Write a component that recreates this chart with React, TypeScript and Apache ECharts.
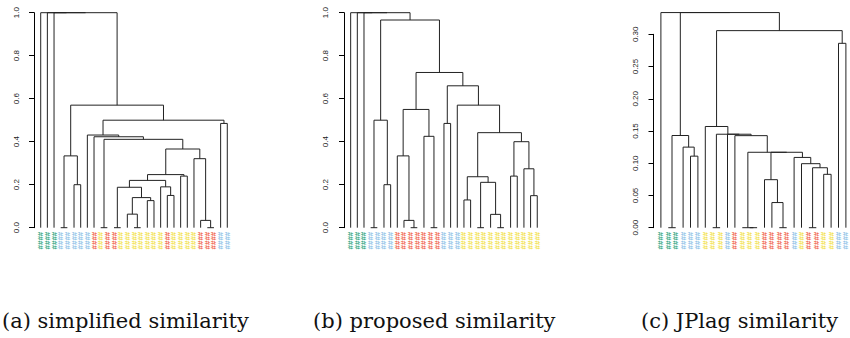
import React, { useEffect, useRef } from "react";
import * as echarts from "echarts";

// leaf label colour codes: g = green, b = blue, r = red, y = yellow
const PALETTE: Record<string, string> = {
  g: "#1fa37a",
  b: "#88c0e6",
  r: "#f0603e",
  y: "#f2df3c",
};

// (a) simplified similarity — 29 leaves
const leafColorsA = ["g","g","g","b","b","b","b","b","r","y","r","r","y","y","y","y","y","y","y","r","y","y","y","y","r","r","r","b","b"];
const mergesA = [[-4,-5],[-6,-7],[1,2],[-10,-11],[-12,-13],[-15,-16],[-14,6],[-17,-18],[7,8],[5,9],[-20,-21],[-19,11],[10,12],[-22,-23],[13,14],[-26,-27],[-25,16],[-24,17],[15,18],[4,19],[-9,20],[-8,21],[-28,-29],[22,23],[3,24],[-3,25],[-2,26],[-1,27]];
const heightsA = [0,0.2,0.334,0,0,0,0.063,0.126,0.14,0.188,0.15,0.19,0.22,0.24,0.247,0,0.034,0.321,0.366,0.411,0.423,0.431,0.485,0.5,0.57,1,1,1];

// (b) proposed similarity — 29 leaves
const leafColorsB = ["g","g","g","b","b","b","b","r","r","r","r","r","r","r","b","b","b","y","y","y","y","y","y","y","y","y","y","y","y"];
const mergesB = [[-4,-5],[-6,-7],[1,2],[-10,-11],[-9,4],[-8,5],[-13,-14],[-12,7],[6,8],[-15,-16],[-18,-19],[-20,-21],[-23,-24],[-22,13],[12,14],[11,15],[-25,-26],[-28,-29],[-27,18],[17,19],[16,20],[-17,21],[10,22],[9,23],[3,24],[-3,25],[-2,26],[-1,27]];
const heightsB = [0,0.2,0.5,0,0.034,0.334,0,0.425,0.55,0.485,0.129,0,0,0.062,0.211,0.237,0.24,0.149,0.274,0.4,0.442,0.57,0.66,0.722,0.966,1,1,1];

// (c) JPlag similarity — 26 leaves
const leafColorsC = ["g","g","g","b","b","b","y","y","y","b","r","y","y","y","r","r","r","r","b","y","r","r","y","y","b","b"];
const mergesC = [[-2,-3],[-5,-6],[-4,2],[1,3],[-8,-9],[-13,-14],[-12,6],[-17,-18],[-16,8],[-15,9],[-21,-22],[-23,-24],[11,12],[-20,13],[-19,14],[10,15],[7,16],[-11,17],[-10,18],[5,19],[-7,20],[-25,-26],[21,22],[4,23],[-1,24]];
const heightsC = [0,0.111,0.125,0.143,0,0,0,0,0.039,0.0745,0,0.0828,0.093,0.0993,0.109,0.117,0.117,0.1428,0.145,0.145,0.157,0.286,0.3057,0.3337,0.3337];

const captions = ["(a) simplified similarity", "(b) proposed similarity", "(c) JPlag similarity"];

function buildSegments(merges: number[][], heights: number[]) {
  const xs: number[] = [];
  const segs: number[][] = [];
  merges.forEach(([l, r], i) => {
    const xl = l < 0 ? -l : xs[l - 1];
    const hl = l < 0 ? 0 : heights[l - 1];
    const xr = r < 0 ? -r : xs[r - 1];
    const hr = r < 0 ? 0 : heights[r - 1];
    xs[i] = (xl + xr) / 2;
    segs.push([xl, hl, xr, hr, heights[i]]);
  });
  return segs;
}

export default function App() {
  const ref = useRef<HTMLDivElement>(null);
  useEffect(() => {
    document.body.style.margin = "0";
    document.body.style.overflow = "hidden";
    const chart = echarts.init(ref.current!, null, { renderer: "svg" });

    const panels = [
      { colors: leafColorsA, merges: mergesA, heights: heightsA, left: 34.04, top: 12.7, height: 215, step: 6.664, xmax: 30, ymax: 1, interval: 0.2, digits: 1, axisX: 29.3, margin: 9 },
      { colors: leafColorsB, merges: mergesB, heights: heightsB, left: 344.0, top: 12.7, height: 215, step: 6.664, xmax: 30, ymax: 1, interval: 0.2, digits: 1, axisX: 338.3, margin: 9 },
      { colors: leafColorsC, merges: mergesC, heights: heightsC, left: 653.5, top: 34.3, height: 193.4, step: 7.4, xmax: 27, ymax: 0.3, interval: 0.05, digits: 2, axisX: 650, margin: 11 },
    ];

    const grid: any[] = [];
    const xAxis: any[] = [];
    const yAxis: any[] = [];
    const series: any[] = [];

    panels.forEach((p, i) => {
      grid.push({ left: p.left, top: p.top, width: p.xmax * p.step, height: p.height, outerBoundsMode: "none", containLabel: false });
      const n = p.colors.length;
      xAxis.push({
        gridIndex: i,
        type: "value",
        min: 0,
        max: p.xmax,
        interval: 1,
        axisLine: { show: false },
        axisTick: { show: false },
        splitLine: { show: false },
        axisLabel: {
          rotate: 90,
          fontSize: 8,
          fontWeight: "bold",
          fontFamily: "Liberation Sans",
          margin: 4,
          showMinLabel: true,
          showMaxLabel: true,
          formatter: (v: number) => (v >= 1 && v <= n && Number.isInteger(v) ? "####" : ""),
          color: (v: any) => {
            const k = Math.round(Number(v));
            return k >= 1 && k <= n ? PALETTE[p.colors[k - 1]] : "transparent";
          },
        },
      });
      yAxis.push({
        gridIndex: i,
        type: "value",
        min: 0,
        max: p.ymax,
        interval: p.interval,
        offset: p.left - p.axisX,
        axisLine: { show: true, lineStyle: { color: "#000", width: 1 } },
        axisTick: { show: true, length: 5, lineStyle: { color: "#000", width: 1 } },
        splitLine: { show: false },
        axisLabel: {
          rotate: 90,
          fontSize: 8,
          fontFamily: "Liberation Sans",
          color: "#222",
          margin: p.margin,
          formatter: (v: number) => v.toFixed(p.digits),
        },
      });
      series.push({
        type: "custom",
        xAxisIndex: i,
        yAxisIndex: i,
        clip: false,
        silent: true,
        data: buildSegments(p.merges, p.heights),
        renderItem: (_params: any, api: any) => {
          const xl = api.value(0), hl = api.value(1), xr = api.value(2), hr = api.value(3), h = api.value(4);
          const pts = [api.coord([xl, hl]), api.coord([xl, h]), api.coord([xr, h]), api.coord([xr, hr])];
          return {
            type: "polyline",
            shape: { points: pts },
            style: { stroke: "#222", lineWidth: 1, fill: null },
          };
        },
      });
    });

    const capX = [2, 313, 641];

    chart.setOption({
      animation: false,
      backgroundColor: "#fff",
      grid,
      xAxis,
      yAxis,
      series,
      title: captions.map((t, i) => ({
        text: t,
        left: capX[i],
        top: 310,
        padding: 0,
        textStyle: {
          fontFamily: "DejaVu Serif",
          fontSize: 21,
          fontWeight: "normal",
          color: "#111",
        },
      })),
    });
    return () => chart.dispose();
  }, []);
  return <div ref={ref} style={{ width: 850, height: 338 }} />;
}
